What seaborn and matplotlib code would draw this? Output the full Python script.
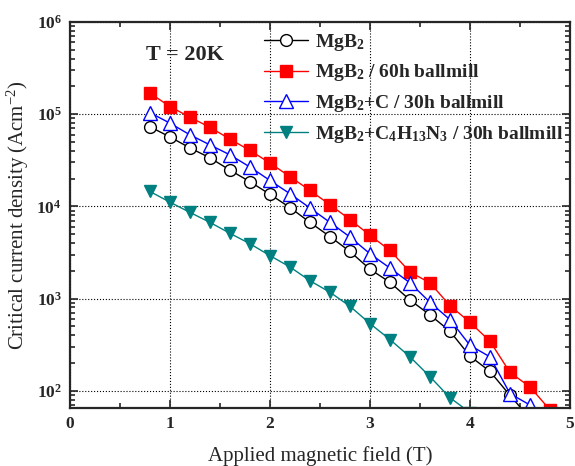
import numpy as np
import pandas as pd
import matplotlib
matplotlib.use("Agg")
import matplotlib.pyplot as plt
import seaborn as sns
from matplotlib.ticker import MultipleLocator, LogLocator, LogFormatterMathtext, NullFormatter

# Applied field (T) and critical current density (A/cm^2)
field = [0.8, 1.0, 1.2, 1.4, 1.6, 1.8, 2.0, 2.2, 2.4, 2.6, 2.8, 3.0,
         3.2, 3.4, 3.6, 3.8, 4.0, 4.2, 4.4, 4.6, 4.8]

jc_mgb2 = [73000, 56600, 43000, 33600, 24700, 18500, 13500, 9700, 6700,
           4700, 3240, 2080, 1500, 964, 664, 442, 237, 162, 89, 50]
jc_60h = [169000, 121000, 92700, 72000, 53600, 40400, 29500, 21000, 14900,
          10400, 7200, 4850, 3330, 1940, 1480, 838, 552, 344, 158, 110, 62]
jc_c30h = [104000, 79800, 59700, 46400, 36200, 26700, 19100, 13700, 9600,
           6700, 4650, 3060, 2140, 1480, 910, 590, 311, 233, 93, 70]
jc_c4h13n3 = [14500, 11100, 8600, 6700, 5100, 3930, 2920, 2200, 1560,
              1170, 824, 535, 359, 233, 142, 84, 58]

labels = [
    "MgB$_2$",
    "MgB$_2$ / 60h ballmill",
    "MgB$_2$+C / 30h ballmill",
    "MgB$_2$+C$_4$H$_{13}$N$_3$ / 30h ballmill",
]

sns.set_theme(style="ticks")
plt.rcParams["font.family"] = ["Liberation Serif", "DejaVu Serif"]
plt.rcParams["mathtext.default"] = "regular"

fig = plt.figure(figsize=(5.75, 4.66), dpi=100)
ax = fig.add_axes([0.1217, 0.1245, 0.8696, 0.8283])
ax.set_yscale("log")

styles = [
    dict(color="black", marker="o", mfc="white", mec="black", markersize=8.5),
    dict(color="red", marker="s", mfc="red", mec="red", markersize=8),
    dict(color="blue", marker="^", mfc="white", mec="blue", markersize=10),
    dict(color="#008080", marker="v", mfc="#008080", mec="#008080", markersize=8.5),
]
series = [jc_mgb2, jc_60h, jc_c30h, jc_c4h13n3]

for ys, lab, st in zip(series, labels, styles):
    df = pd.DataFrame({"B": field[:len(ys)], "Jc": ys})
    sns.lineplot(data=df, x="B", y="Jc", ax=ax, label=lab, linewidth=1.0,
                 mew=1.0, sort=False, **st)

ax.set_xlim(0, 5)
ax.set_ylim(65, 1e6)
ax.xaxis.set_major_locator(MultipleLocator(1))
ax.xaxis.set_minor_locator(MultipleLocator(0.5))
ax.yaxis.set_major_locator(LogLocator(base=10, numticks=10))
ax.yaxis.set_major_formatter(LogFormatterMathtext())
ax.yaxis.set_minor_locator(LogLocator(base=10, subs=np.arange(2, 10), numticks=20))
ax.yaxis.set_minor_formatter(NullFormatter())

ax.tick_params(which="both", direction="in", top=True, right=True, width=1.2)
ax.tick_params(which="major", length=6, labelsize=12.5, pad=6)
ax.tick_params(which="minor", length=3.5)
for t in ax.get_xticklabels() + ax.get_yticklabels():
    t.set_fontweight("bold")
for s in ax.spines.values():
    s.set_linewidth(1.6)

ax.grid(True, which="major", linestyle=":", color="black", linewidth=0.8)

ax.set_xlabel("Applied magnetic field (T)", fontsize=15, labelpad=10)
ax.set_ylabel("Critical current density (Acm$^{-2}$)", fontsize=15, labelpad=4)

ax.text(0.152, 0.915, "T = 20K", transform=ax.transAxes, fontsize=16,
        fontweight="bold", va="center", ha="left")

leg = ax.legend(loc="upper left", bbox_to_anchor=(0.372, 0.995), frameon=False,
                prop={"weight": "bold", "size": 14}, handlelength=2.3,
                handletextpad=0.35, labelspacing=0.5, borderaxespad=0.0)

fig.savefig("out.png", dpi=100)
